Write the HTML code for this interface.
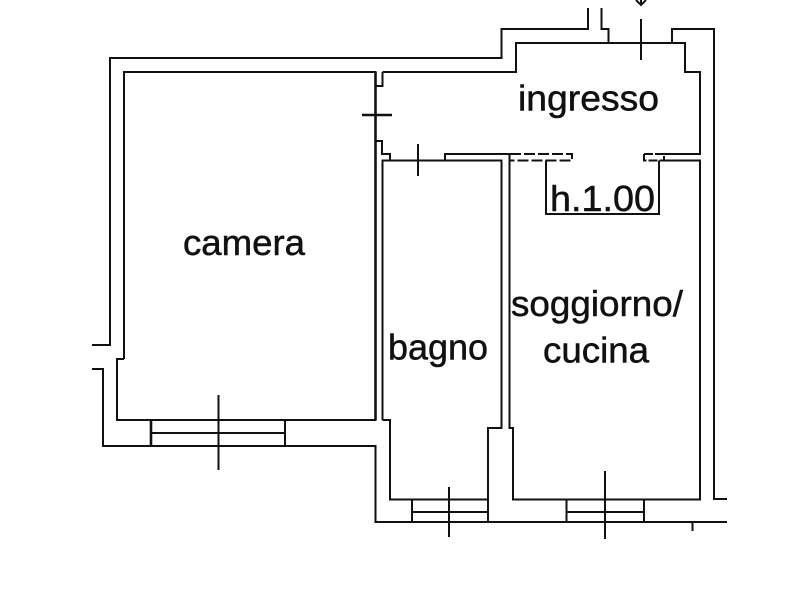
<!DOCTYPE html>
<html><head><meta charset="utf-8"><style>
html,body{margin:0;padding:0;background:#fff}
svg{display:block}
text{font-family:"Liberation Sans",sans-serif;font-size:36px;fill:#111;stroke:#111;stroke-width:.5px}
</style></head><body>
<svg width="800" height="600" viewBox="0 0 800 600" xmlns="http://www.w3.org/2000/svg">
<rect width="800" height="600" fill="#fff"/>
<g fill="none" stroke="#111" stroke-width="2">
<path d="M92 345H110V58H501.5V29H588V8"/>
<path d="M601.5 8V29H608.5V43"/>
<path d="M672 43V29H714V499H727"/>
<path d="M92 369H103V446H375.5V522H727"/>
<path d="M382.5 72H516V43H685V72H700V154H664"/>
<path d="M124 359V72H375.5V420H117V359H124"/>
<path d="M382.5 72V86H376M376 141H382V154H390V160.5"/>
<path d="M382.500 420V160.500H501.500V428H488V522"/>
<path d="M382.500 420H390V499.500H488"/>
<path d="M445 160V154H510"/>
<path d="M509.500 154V428H513V499.500H700V160.500H660"/>
<path d="M151 420V446M285 420V446M151 433H285"/>
<path d="M412 499.500V522M566.500 499.500V522M644 499.500V522M412 512H488M566.500 512H644"/>
<path d="M546 160.500V214H659V160.500"/>
<path d="M510 154H572V160.500H510" stroke-dasharray="11 3"/>
<path d="M644 154V160.500H664V154H644" stroke-dasharray="9 2"/>
<path d="M641 19V60M362 115H392M418 144V176M218.500 395V470M449 487V537M605 471V539"/>
<path d="M692.500 522V531"/>
<path d="M636 0L641 5L646 0M641 0V5"/>
<path d="M375.500 72V420" stroke-width="2.600"/>
<path d="M362 115H392" stroke-width="2.600"/>
<path d="M151 420V446" stroke-width="2.600"/>
</g>
<text x="518" y="110.500" textLength="141" lengthAdjust="spacingAndGlyphs">ingresso</text>
<text x="550" y="211" textLength="105" lengthAdjust="spacingAndGlyphs">h.1.00</text>
<text x="183" y="255" textLength="122" lengthAdjust="spacingAndGlyphs">camera</text>
<text x="388" y="359.500" textLength="100" lengthAdjust="spacingAndGlyphs">bagno</text>
<text x="511" y="316" textLength="172" lengthAdjust="spacingAndGlyphs">soggiorno/</text>
<text x="543" y="362.500" textLength="106" lengthAdjust="spacingAndGlyphs">cucina</text>
</svg>
</body></html>
